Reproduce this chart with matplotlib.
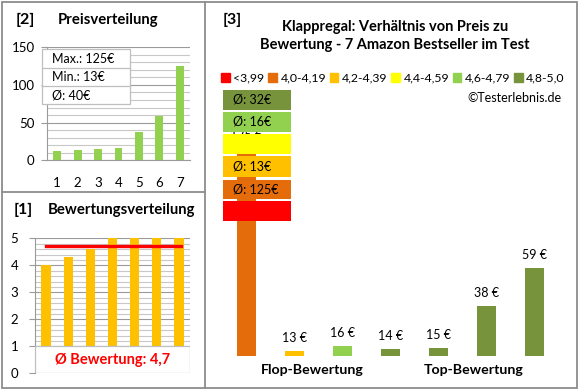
import matplotlib
matplotlib.use("Agg")
import matplotlib.pyplot as plt
from matplotlib.patches import Rectangle, Patch
from matplotlib.lines import Line2D
from matplotlib.ticker import MultipleLocator

plt.rcParams['font.family'] = ['Lato', 'DejaVu Sans']

# data
prices_sorted = [13, 14, 15, 16, 38, 59, 125]
price_stats = ["Max.: 125€", "Min.: 13€", "Ø: 40€"]
ratings = [4.0, 4.3, 4.6, 5.0, 5.0, 5.0, 5.0]
avg_rating = 4.7
prices = [125, 13, 16, 14, 15, 38, 59]
bar_colors = ["#E46C0A", "#FFC000", "#92D050", "#77933C", "#77933C", "#77933C", "#77933C"]
class_labels = ["<3,99", "4,0-4,19", "4,2-4,39", "4,4-4,59", "4,6-4,79", "4,8-5,0"]
class_colors = ["#FF0000", "#E46C0A", "#FFC000", "#FFFF00", "#92D050", "#77933C"]
class_avg = ["", "Ø: 125€", "Ø: 13€", "", "Ø: 16€", "Ø: 32€"]

W, H = 580, 390
GRID_MAJ = "#9A9A9A"
GRID_MIN = "#C8C8C8"
BORDER = "#8C8C8C"


def box(x0, y0, x1, y1):
    return [x0 / W, 1 - y1 / H, (x1 - x0) / W, (y1 - y0) / H]


def fx(x):
    return x / W


def fy(y):
    return 1 - y / H


fig = plt.figure(figsize=(5.8, 3.9), dpi=100)

# panel borders
fig.patches.append(Rectangle((fx(2), fy(388)), fx(575), (386) / H, transform=fig.transFigure,
                             fill=False, ec=BORDER, lw=1.3))
fig.lines.append(Line2D([fx(205), fx(205)], [fy(2), fy(388)], transform=fig.transFigure, color=BORDER, lw=1.3))
fig.lines.append(Line2D([fx(2), fx(205)], [fy(192), fy(192)], transform=fig.transFigure, color=BORDER, lw=1.3))


def style_axes(ax):
    for s in ["top", "right"]:
        ax.spines[s].set_visible(False)
    ax.spines["left"].set_color(GRID_MAJ)
    ax.spines["bottom"].set_color(GRID_MAJ)
    ax.grid(which="major", axis="y", color=GRID_MAJ, lw=0.8)
    ax.grid(which="minor", axis="y", color=GRID_MIN, lw=0.8)
    ax.set_axisbelow(True)
    ax.tick_params(axis="y", which="major", length=4, color=GRID_MAJ, labelsize=9.5, pad=5)
    ax.tick_params(axis="y", which="minor", length=0)
    ax.tick_params(axis="x", length=0)


# [2] Preisverteilung
ax2 = fig.add_axes(box(47, 47.3, 190, 160.3))
x = range(len(prices_sorted))
ax2.bar(x, prices_sorted, width=0.39, color="#92D050", zorder=2)
ax2.set_xlim(-0.5, 6.5)
ax2.set_ylim(0, 150)
ax2.set_yticks([0, 50, 100, 150])
ax2.yaxis.set_minor_locator(MultipleLocator(10))
ax2.set_xticks(list(x))
ax2.set_xticklabels([str(i + 1) for i in x])
style_axes(ax2)
ax2.tick_params(axis="x", labelsize=9.5, pad=12)
fig.text(fx(16), fy(20), "[2]", fontsize=11.5, fontweight="bold", va="center")
fig.text(fx(58), fy(20), "Preisverteilung", fontsize=10.7, fontweight="bold", va="center")

# stats box
fig.patches.append(Rectangle((fx(42), fy(104)), 88 / W, 55 / H, transform=fig.transFigure,
                             fc="white", ec="#BFBFBF", lw=0.9, zorder=5))
for yy in [68, 86]:
    fig.lines.append(Line2D([fx(42), fx(130)], [fy(yy), fy(yy)], transform=fig.transFigure,
                            color="#BFBFBF", lw=0.9, zorder=6))
for i, s in enumerate(price_stats):
    fig.text(fx(52), fy(59 + i * 18), s, fontsize=9, va="center", zorder=7)

# [1] Bewertungsverteilung
ax1 = fig.add_axes(box(35, 238.3, 190, 373.3))
ax1.bar(range(len(ratings)), ratings, width=0.42, color="#FFC000", zorder=2)
ax1.plot([0, 6.1], [avg_rating, avg_rating], color="#FF0000", lw=2.4, zorder=3)
ax1.set_xlim(-0.5, 6.5)
ax1.set_ylim(0, 5)
ax1.set_yticks(range(6))
ax1.yaxis.set_minor_locator(MultipleLocator(0.2))
ax1.set_xticks([])
style_axes(ax1)
ax1.tick_params(axis="y", pad=8)
ax1.spines["bottom"].set_visible(False)
ax1.add_patch(Rectangle((-0.5, 0.0), 7, 1.02, fc="white", ec="#BFBFBF", lw=0.9, zorder=4))
ax1.text(3, 0.5, "Ø Bewertung: " + str(avg_rating).replace(".", ","), color="#FF0000",
         fontsize=10.5, fontweight="bold", ha="center", va="center", zorder=5)
fig.text(fx(14), fy(210), "[1]", fontsize=11.5, fontweight="bold", va="center")
fig.text(fx(48), fy(210), "Bewertungsverteilung", fontsize=10.7, fontweight="bold", va="center")

# [3] price vs rating
ax3 = fig.add_axes(box(222.3, 103, 558.3, 355.7))
ax3.bar(range(len(prices)), prices, width=0.40, color=bar_colors, zorder=1)
for i, v in enumerate(prices):
    ax3.annotate(f"{v} €", (i, v), xytext=(0, 5), textcoords="offset points",
                 ha="center", va="bottom", fontsize=9, zorder=1)
ax3.set_xlim(-0.5, 6.5)
ax3.set_ylim(10.5, 150)
ax3.axis("off")

fig.text(fx(223), fy(20), "[3]", fontsize=11.5, fontweight="bold", va="center")
fig.text(fx(395), fy(36), "Klappregal: Verhältnis von Preis zu\nBewertung - 7 Amazon Bestseller im Test",
         fontsize=10.5, fontweight="bold", ha="center", va="center", linespacing=1.35)

handles = [Patch(color=c) for c in class_colors]
fig.legend(handles, class_labels, loc="center", bbox_to_anchor=(fx(393), fy(78)), ncol=6,
           frameon=False, fontsize=8.8, handlelength=0.7, handleheight=0.7,
           handletextpad=0.3, columnspacing=0.3, borderpad=0)
fig.text(fx(562), fy(98), "©Testerlebnis.de", fontsize=9, ha="right", va="center")

# colour class boxes, top to bottom
box_rows = [(201, 220.7), (180, 199), (155.7, 176.7), (133.7, 153.7), (112, 131.7), (90, 110)]
for (y0, y1), c, lab in zip(box_rows, class_colors, class_avg):
    fig.patches.append(Rectangle((fx(223), fy(y1)), 68 / W, (y1 - y0) / H, transform=fig.transFigure,
                                 fc=c, ec="none", zorder=5))
    if lab:
        fig.text(fx(233), fy((y0 + y1) / 2), lab, fontsize=9, va="center", zorder=6)

fig.text(fx(312), fy(370), "Flop-Bewertung", fontsize=10.2, fontweight="bold", ha="center", va="center")
fig.text(fx(474), fy(370), "Top-Bewertung", fontsize=10.2, fontweight="bold", ha="center", va="center")

fig.savefig("out.png", dpi=100)
